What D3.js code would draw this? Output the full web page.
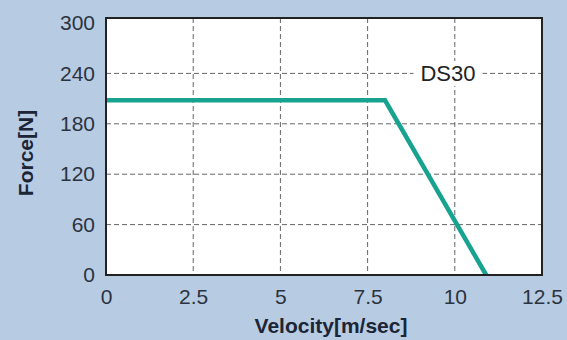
<!DOCTYPE html>
<html><head><meta charset="utf-8">
<script src="https://cdn.jsdelivr.net/npm/d3@7/dist/d3.min.js"></script>
<style>body{margin:0;background:#b7cce3;}svg{display:block;}</style>
</head><body>
<script>
const velocity = [0, 8.0, 10.9];
const force = [208, 208, 0];
const xTicks = [0, 2.5, 5, 7.5, 10, 12.5];
const yTicks = [0, 60, 120, 180, 240, 300];
const xTickLabels = ["0", "2.5", "5", "7.5", "10", "12.5"];
const yTickLabels = ["0", "60", "120", "180", "240", "300"];
const seriesName = "DS30";
const xTitle = "Velocity[m/sec]";
const yTitle = "Force[N]";

const W = 567, H = 340;
const FONT = "Liberation Sans, Arial, sans-serif";
const svg = d3.select("body").append("svg").attr("width", W).attr("height", H);
svg.append("rect").attr("width", W).attr("height", H).attr("fill", "#b7cce3");

const x = d3.scaleLinear().domain([0, 12.5]).range([106, 542]);
const y = d3.scaleLinear().domain([0, 300]).range([275, 23]);
const frameTop = 18;

svg.append("rect").attr("x", x(0)).attr("y", frameTop).attr("width", x(12.5) - x(0)).attr("height", y(0) - frameTop).attr("fill", "#fff");

// grid
const grid = svg.append("g").attr("stroke", "#666").attr("stroke-width", 1).attr("stroke-dasharray", "5,3");
grid.selectAll("line.v").data(xTicks.slice(1, -1)).join("line")
  .attr("x1", d => x(d)).attr("x2", d => x(d)).attr("y1", frameTop).attr("y2", y(0));
grid.selectAll("line.h").data(yTicks.slice(1, -1)).join("line")
  .attr("x1", x(0)).attr("x2", x(12.5)).attr("y1", d => y(d)).attr("y2", d => y(d));

// series label with white box
const lbl = svg.append("text").attr("x", 448).attr("y", y(240)).attr("dy", "0.35em")
  .attr("text-anchor", "middle").attr("font-family", FONT)
  .attr("font-size", 22).attr("fill", "#222").text(seriesName);
const bb = lbl.node().getBBox();
svg.insert("rect", "text").attr("x", bb.x - 7).attr("y", bb.y).attr("width", bb.width + 14).attr("height", bb.height).attr("fill", "#fff");

// line
const pts = velocity.map((v, i) => [v, force[i]]);
svg.append("path").datum(pts)
  .attr("d", d3.line().x(d => x(d[0])).y(d => y(d[1])))
  .attr("fill", "none").attr("stroke", "#17a390").attr("stroke-width", 4.5).attr("stroke-linejoin", "miter");

// frame
svg.append("rect").attr("x", x(0)).attr("y", frameTop).attr("width", x(12.5) - x(0)).attr("height", y(0) - frameTop)
  .attr("fill", "none").attr("stroke", "#222").attr("stroke-width", 2);

// axes
const xAxis = d3.axisBottom(x).tickValues(xTicks).tickFormat((d, i) => xTickLabels[i]).tickSize(0).tickPadding(14);
const gx = svg.append("g").attr("transform", `translate(0,${y(0)})`).call(xAxis);
const yAxis = d3.axisLeft(y).tickValues(yTicks).tickFormat((d, i) => yTickLabels[i]).tickSize(0).tickPadding(11);
const gy = svg.append("g").attr("transform", `translate(${x(0)},0)`).call(yAxis);
[gx, gy].forEach(g => {
  g.select(".domain").remove();
  g.selectAll("text").attr("font-family", FONT).attr("font-size", 21).attr("fill", "#2b3340");
});

svg.append("text").attr("x", 331).attr("y", 333).attr("text-anchor", "middle")
  .attr("font-family", FONT).attr("font-weight", "bold").attr("font-size", 21)
  .attr("fill", "#1c2535").text(xTitle);
svg.append("text").attr("transform", "translate(33,153) rotate(-90)").attr("text-anchor", "middle")
  .attr("font-family", FONT).attr("font-weight", "bold").attr("font-size", 21)
  .attr("fill", "#1c2535").text(yTitle);
</script>
</body></html>
